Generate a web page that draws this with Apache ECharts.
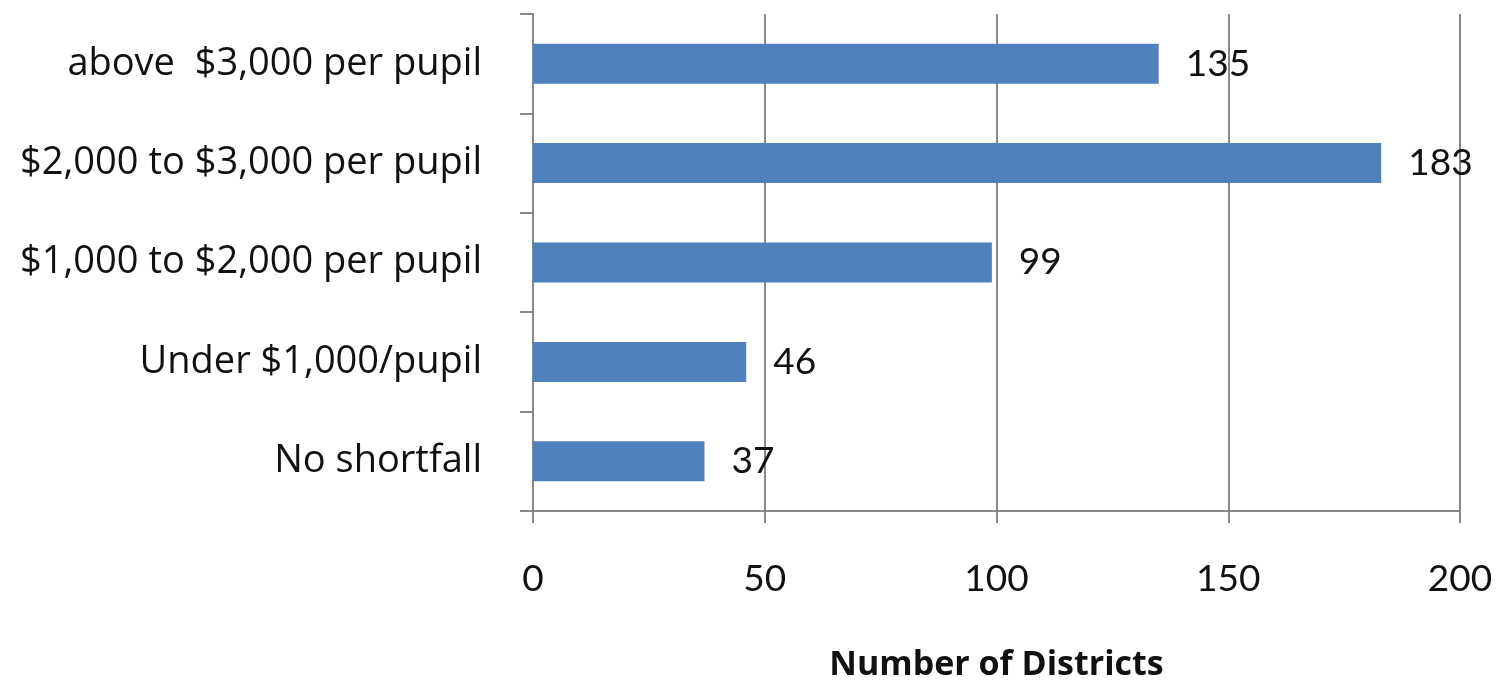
<!DOCTYPE html>
<html>
<head>
<meta charset="utf-8">
<script src="https://cdn.jsdelivr.net/npm/echarts@6/dist/echarts.min.js"></script>
<style>
  html, body { margin: 0; padding: 0; background: #fff; }
  #chart { width: 1497px; height: 687px; }
</style>
</head>
<body>
<div id="chart"></div>
<script>
// categories listed bottom to top (ECharts category y axis starts at bottom)
const categories = ['No shortfall', 'Under $1,000/pupil', '$1,000 to $2,000 per pupil', '$2,000 to $3,000 per pupil', 'above  $3,000 per pupil'];
const districts = [37, 46, 99, 183, 135];
const xTicks = [0, 50, 100, 150, 200];

const chart = echarts.init(document.getElementById('chart'));
const font = 'Lato, "Noto Sans", sans-serif';
const wideFont = '"Open Sans", Lato, sans-serif';

const option = {
  animation: false,
  grid: { left: 533, right: 37, top: 14, bottom: 171 },
  xAxis: {
    type: 'value',
    min: xTicks[0],
    max: xTicks[xTicks.length - 1],
    interval: 50,
    name: 'Number of Districts',
    nameLocation: 'middle',
    nameGap: 137,
    nameTextStyle: { fontFamily: wideFont, fontSize: 34, fontWeight: 'bold', color: '#111' },
    axisLine: { show: true, lineStyle: { color: '#888', width: 2 } },
    axisTick: { show: true, length: 12, lineStyle: { color: '#888', width: 2 } },
    axisLabel: { margin: 50, fontFamily: font, fontSize: 37, color: '#111' },
    splitLine: { show: true, lineStyle: { color: '#888', width: 2 } }
  },
  yAxis: {
    type: 'category',
    data: categories,
    axisLine: { show: true, lineStyle: { color: '#888', width: 2 } },
    axisTick: { show: true, length: 13, lineStyle: { color: '#888', width: 2 } },
    axisLabel: { margin: 51, fontFamily: wideFont, fontSize: 38, color: '#111' }
  },
  series: [{
    type: 'bar',
    data: districts,
    barWidth: 40,
    itemStyle: { color: '#4F81BD' },
    label: {
      show: true,
      position: 'right',
      distance: 27,
      fontFamily: font,
      fontSize: 37,
      color: '#111'
    }
  }]
};
chart.setOption(option);
</script>
</body>
</html>
